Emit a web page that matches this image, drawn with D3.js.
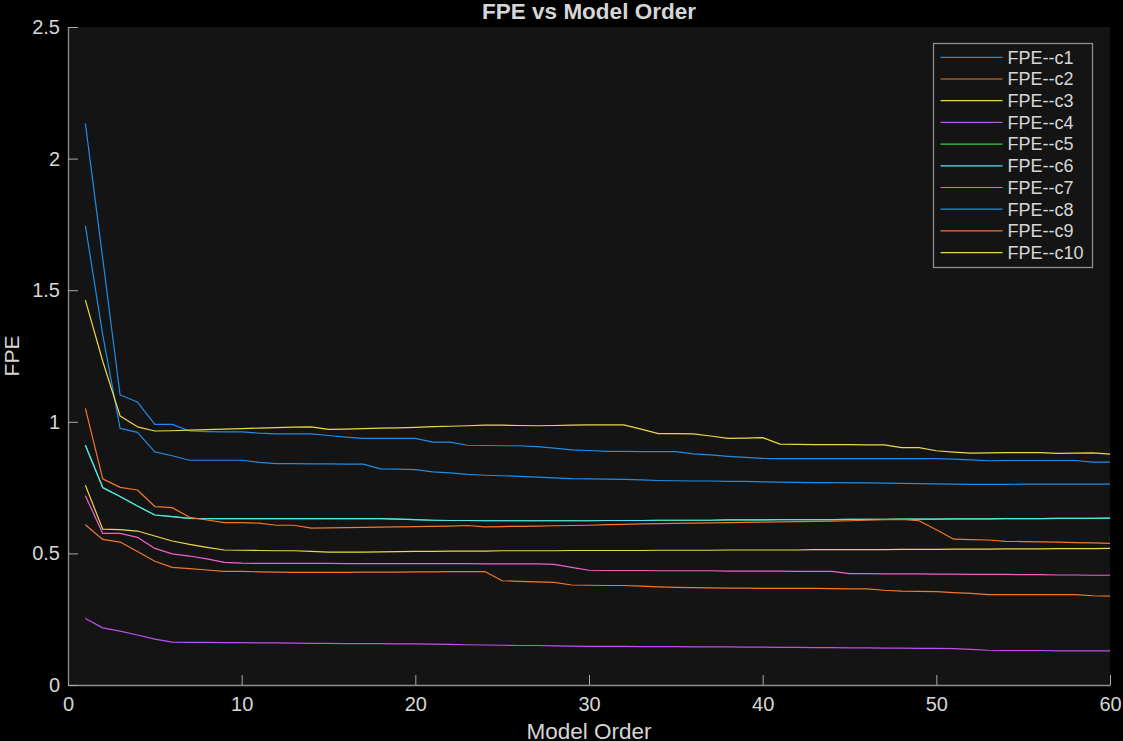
<!DOCTYPE html>
<html>
<head>
<meta charset="utf-8">
<script src="https://cdn.jsdelivr.net/npm/d3@7"></script>
<style>
    body { margin: 0; background: #000; }
    #chart { width: 1123px; height: 741px; }
    .line { fill: none; stroke-width: 1.2; stroke-linejoin: round; }
    text { font-family: "Liberation Sans", Arial, sans-serif; fill: #d6d6d6; }
</style>
</head>
<body>
<div id="chart"></div>
<script>
// Model order (x values)
const modelOrders = [1, 2, 3, 4, 5, 6, 7, 8, 9, 10, 11, 12, 13, 14, 15, 16, 17, 18, 19, 20,
    21, 22, 23, 24, 25, 26, 27, 28, 29, 30, 31, 32, 33, 34, 35, 36, 37, 38, 39, 40,
    41, 42, 43, 44, 45, 46, 47, 48, 49, 50, 51, 52, 53, 54, 55, 56, 57, 58, 59, 60];

const seriesNames = ["FPE--c1", "FPE--c2", "FPE--c3", "FPE--c4", "FPE--c5",
    "FPE--c6", "FPE--c7", "FPE--c8", "FPE--c9", "FPE--c10"];

const fpeC1 = [2.134, 1.62, 1.102, 1.075, 0.990, 0.990, 0.965, 0.963, 0.962, 0.962,
    0.957, 0.954, 0.954, 0.954, 0.948, 0.942, 0.937, 0.937, 0.937, 0.937,
    0.923, 0.923, 0.911, 0.910, 0.909, 0.909, 0.906, 0.900, 0.893, 0.891,
    0.888, 0.888, 0.887, 0.887, 0.887, 0.878, 0.874, 0.869, 0.865, 0.861,
    0.860, 0.860, 0.860, 0.860, 0.860, 0.860, 0.860, 0.860, 0.860, 0.860,
    0.858, 0.855, 0.852, 0.853, 0.853, 0.853, 0.853, 0.853, 0.847, 0.847];

const fpeC2 = [0.609, 0.553, 0.543, 0.507, 0.470, 0.447, 0.442, 0.437, 0.432, 0.432,
    0.430, 0.429, 0.428, 0.428, 0.428, 0.428, 0.429, 0.429, 0.429, 0.430,
    0.430, 0.431, 0.431, 0.431, 0.396, 0.394, 0.392, 0.390, 0.380, 0.379,
    0.378, 0.378, 0.376, 0.373, 0.371, 0.370, 0.369, 0.368, 0.368, 0.367,
    0.367, 0.367, 0.367, 0.366, 0.365, 0.365, 0.360, 0.357, 0.356, 0.355,
    0.351, 0.348, 0.343, 0.343, 0.343, 0.343, 0.343, 0.343, 0.339, 0.338];

const fpeC3 = [0.759, 0.592, 0.590, 0.585, 0.566, 0.547, 0.534, 0.523, 0.513, 0.512,
    0.511, 0.510, 0.510, 0.508, 0.505, 0.505, 0.505, 0.506, 0.507, 0.508,
    0.508, 0.509, 0.509, 0.509, 0.510, 0.510, 0.510, 0.510, 0.511, 0.511,
    0.511, 0.511, 0.511, 0.512, 0.512, 0.512, 0.512, 0.513, 0.513, 0.513,
    0.513, 0.513, 0.514, 0.514, 0.514, 0.514, 0.514, 0.515, 0.515, 0.515,
    0.516, 0.516, 0.516, 0.517, 0.517, 0.517, 0.518, 0.518, 0.518, 0.519];

const fpeC4 = [0.253, 0.217, 0.205, 0.190, 0.174, 0.163, 0.162, 0.162, 0.161, 0.161,
    0.160, 0.160, 0.159, 0.158, 0.158, 0.157, 0.157, 0.157, 0.156, 0.156,
    0.155, 0.154, 0.153, 0.152, 0.151, 0.150, 0.150, 0.149, 0.148, 0.147,
    0.147, 0.147, 0.146, 0.146, 0.146, 0.145, 0.145, 0.145, 0.144, 0.144,
    0.143, 0.143, 0.142, 0.142, 0.141, 0.141, 0.140, 0.140, 0.139, 0.139,
    0.138, 0.135, 0.132, 0.131, 0.131, 0.131, 0.130, 0.130, 0.130, 0.130];

// c5 sits exactly beneath c6 in the picture (never visible)
const fpeC5 = [0.911, 0.750, 0.716, 0.680, 0.646, 0.640, 0.633, 0.632, 0.632, 0.632,
    0.632, 0.632, 0.632, 0.632, 0.632, 0.632, 0.632, 0.632, 0.630, 0.628,
    0.626, 0.625, 0.625, 0.624, 0.624, 0.624, 0.624, 0.624, 0.624, 0.624,
    0.625, 0.625, 0.625, 0.626, 0.626, 0.626, 0.626, 0.627, 0.627, 0.627,
    0.628, 0.628, 0.628, 0.628, 0.629, 0.629, 0.629, 0.630, 0.630, 0.630,
    0.631, 0.631, 0.631, 0.632, 0.632, 0.632, 0.633, 0.633, 0.633, 0.634];

const fpeC6 = [0.911, 0.750, 0.716, 0.680, 0.646, 0.640, 0.633, 0.632, 0.632, 0.632,
    0.632, 0.632, 0.632, 0.632, 0.632, 0.632, 0.632, 0.632, 0.630, 0.628,
    0.626, 0.625, 0.625, 0.624, 0.624, 0.624, 0.624, 0.624, 0.624, 0.624,
    0.625, 0.625, 0.625, 0.626, 0.626, 0.626, 0.626, 0.627, 0.627, 0.627,
    0.628, 0.628, 0.628, 0.628, 0.629, 0.629, 0.629, 0.630, 0.630, 0.630,
    0.631, 0.631, 0.631, 0.632, 0.632, 0.632, 0.633, 0.633, 0.633, 0.634];

const fpeC7 = [0.719, 0.576, 0.576, 0.561, 0.519, 0.498, 0.490, 0.479, 0.466, 0.463,
    0.462, 0.462, 0.462, 0.462, 0.462, 0.461, 0.461, 0.461, 0.461, 0.461,
    0.461, 0.461, 0.461, 0.460, 0.460, 0.460, 0.460, 0.458, 0.447, 0.436,
    0.435, 0.435, 0.435, 0.434, 0.434, 0.434, 0.434, 0.433, 0.433, 0.433,
    0.433, 0.432, 0.432, 0.432, 0.423, 0.423, 0.422, 0.422, 0.422, 0.421,
    0.421, 0.420, 0.420, 0.420, 0.419, 0.419, 0.418, 0.418, 0.417, 0.417];

const fpeC8 = [1.745, 1.33, 0.975, 0.960, 0.886, 0.871, 0.854, 0.854, 0.854, 0.854,
    0.846, 0.841, 0.841, 0.840, 0.840, 0.839, 0.839, 0.821, 0.820, 0.818,
    0.810, 0.806, 0.800, 0.797, 0.795, 0.793, 0.790, 0.787, 0.784, 0.783,
    0.782, 0.781, 0.779, 0.777, 0.776, 0.775, 0.775, 0.774, 0.774, 0.772,
    0.771, 0.770, 0.769, 0.769, 0.768, 0.768, 0.767, 0.766, 0.765, 0.764,
    0.763, 0.762, 0.762, 0.762, 0.763, 0.763, 0.763, 0.763, 0.763, 0.763];

const fpeC9 = [1.051, 0.783, 0.751, 0.741, 0.678, 0.674, 0.637, 0.627, 0.617, 0.617,
    0.615, 0.607, 0.607, 0.596, 0.597, 0.598, 0.599, 0.600, 0.601, 0.602,
    0.603, 0.604, 0.606, 0.601, 0.602, 0.603, 0.604, 0.605, 0.606, 0.607,
    0.609, 0.610, 0.612, 0.613, 0.614, 0.615, 0.616, 0.617, 0.618, 0.619,
    0.620, 0.621, 0.622, 0.623, 0.624, 0.626, 0.628, 0.629, 0.624, 0.590,
    0.554, 0.552, 0.551, 0.546, 0.545, 0.544, 0.543, 0.541, 0.540, 0.538];

const fpeC10 = [1.462, 1.23, 1.022, 0.981, 0.965, 0.966, 0.968, 0.970, 0.972, 0.974,
    0.976, 0.978, 0.980, 0.981, 0.971, 0.972, 0.974, 0.976, 0.977, 0.979,
    0.982, 0.983, 0.985, 0.987, 0.987, 0.986, 0.985, 0.986, 0.987, 0.988,
    0.988, 0.988, 0.972, 0.955, 0.955, 0.954, 0.946, 0.937, 0.938, 0.940,
    0.915, 0.914, 0.913, 0.913, 0.913, 0.912, 0.912, 0.902, 0.902, 0.890,
    0.885, 0.881, 0.882, 0.883, 0.883, 0.883, 0.880, 0.881, 0.882, 0.877];

const seriesColors = ["#1f8ce6", "#f07828", "#ecd845", "#c04ff0", "#3fd03f",
    "#52e2f2", "#f060d0", "#1f8ce6", "#f07828", "#ecd845"];

const xTicks = [0, 10, 20, 30, 40, 50, 60];
const yTicks = [0, 0.5, 1, 1.5, 2, 2.5];
const yTickLabels = ["0", "0.5", "1", "1.5", "2", "2.5"];

document.addEventListener('DOMContentLoaded', function() {
    drawChart();
});

function drawChart() {
    const allSeries = [fpeC1, fpeC2, fpeC3, fpeC4, fpeC5, fpeC6, fpeC7, fpeC8, fpeC9, fpeC10];

    const totalWidth = 1123, totalHeight = 741;
    const margin = {top: 27, right: 13, bottom: 56, left: 68};
    const width = totalWidth - margin.left - margin.right;
    const height = totalHeight - margin.top - margin.bottom;

    const svg = d3.select("#chart")
        .append("svg")
        .attr("width", totalWidth)
        .attr("height", totalHeight)
        .style("background", "#000");

    const g = svg.append("g")
        .attr("transform", `translate(${margin.left},${margin.top})`);

    // Axes background
    g.append("rect")
        .attr("width", width)
        .attr("height", height)
        .attr("fill", "#141414");

    const xScale = d3.scaleLinear().domain([0, 60]).range([0, width]);
    const yScale = d3.scaleLinear().domain([0, 2.5]).range([height, 0]);

    // Lines (in plotting order, later ones on top)
    const line = d3.line()
        .x((d, i) => xScale(modelOrders[i]))
        .y(d => yScale(d));

    allSeries.forEach((values, i) => {
        g.append("path")
            .datum(values)
            .attr("class", "line")
            .attr("stroke", seriesColors[i])
            .attr("d", line);
    });

    // X axis, ticks pointing inward
    const xAxis = g.append("g")
        .attr("transform", `translate(0,${height})`)
        .call(d3.axisBottom(xScale)
            .tickValues(xTicks)
            .tickFormat(d3.format("d"))
            .tickSizeInner(-10)
            .tickSizeOuter(0)
            .tickPadding(12));

    // Y axis
    const yAxis = g.append("g")
        .call(d3.axisLeft(yScale)
            .tickValues(yTicks)
            .tickFormat((d, i) => yTickLabels[i])
            .tickSizeInner(-10)
            .tickSizeOuter(0)
            .tickPadding(8));

    [xAxis, yAxis].forEach(ax => {
        ax.select(".domain").attr("stroke", "#8e8e8e").attr("stroke-width", 1.3);
        ax.selectAll(".tick line").attr("stroke", "#a8a8a8");
        ax.selectAll(".tick text")
            .attr("fill", "#d6d6d6")
            .style("font-size", "20px")
            .style("font-family", '"Liberation Sans", Arial, sans-serif');
    });

    // Title and axis labels
    svg.append("text")
        .attr("x", margin.left + width / 2)
        .attr("y", 19)
        .attr("text-anchor", "middle")
        .style("font-size", "22.5px")
        .style("font-weight", "bold")
        .text("FPE vs Model Order");

    svg.append("text")
        .attr("x", margin.left + width / 2)
        .attr("y", 739)
        .attr("text-anchor", "middle")
        .style("font-size", "22.5px")
        .text("Model Order");

    svg.append("text")
        .attr("transform", `translate(18.5,${margin.top + height / 2}) rotate(-90)`)
        .attr("text-anchor", "middle")
        .style("font-size", "21px")
        .text("FPE");

    // Legend
    const legend = svg.append("g")
        .attr("transform", "translate(933.5,43.5)");

    legend.append("rect")
        .attr("width", 159)
        .attr("height", 224)
        .attr("fill", "#141414")
        .attr("stroke", "#8e8e8e")
        .attr("stroke-width", 1.3);

    seriesNames.forEach((name, i) => {
        const row = legend.append("g")
            .attr("transform", `translate(0, ${13.8 + i * 21.7})`);

        row.append("line")
            .attr("x1", 7)
            .attr("x2", 69)
            .attr("y1", 0)
            .attr("y2", 0)
            .attr("stroke", seriesColors[i])
            .attr("stroke-width", 1.2);

        row.append("text")
            .attr("x", 74)
            .attr("y", 0)
            .attr("dy", "0.35em")
            .style("font-size", "18px")
            .text(name);
    });
}
</script>
</body>
</html>
